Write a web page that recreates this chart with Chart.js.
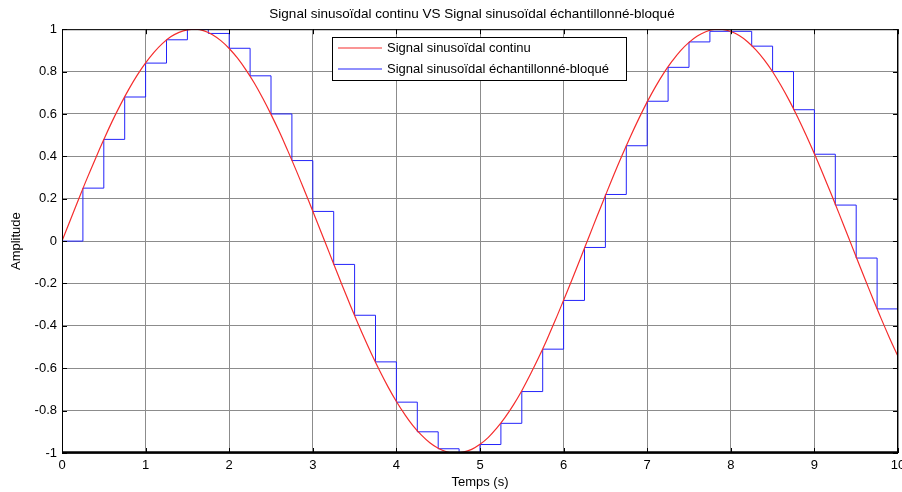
<!DOCTYPE html>
<html>
<head>
<meta charset="utf-8">
<script src="https://cdn.jsdelivr.net/npm/chart.js@4/dist/chart.umd.min.js"></script>
<style>
  body { margin: 0; background: #fff; }
  canvas { display: block; }
</style>
</head>
<body>
<canvas id="sineChart" width="902" height="492"></canvas>
<script>
// continuous signal, read every 0.1 s
const contTime = [0, 0.1, 0.2, 0.3, 0.4, 0.5, 0.6, 0.7, 0.8, 0.9,
  1, 1.1, 1.2, 1.3, 1.4, 1.5, 1.6, 1.7, 1.8, 1.9,
  2, 2.1, 2.2, 2.3, 2.4, 2.5, 2.6, 2.7, 2.8, 2.9,
  3, 3.1, 3.2, 3.3, 3.4, 3.5, 3.6, 3.7, 3.8, 3.9,
  4, 4.1, 4.2, 4.3, 4.4, 4.5, 4.6, 4.7, 4.8, 4.9,
  5, 5.1, 5.2, 5.3, 5.4, 5.5, 5.6, 5.7, 5.8, 5.9,
  6, 6.1, 6.2, 6.3, 6.4, 6.5, 6.6, 6.7, 6.8, 6.9,
  7, 7.1, 7.2, 7.3, 7.4, 7.5, 7.6, 7.7, 7.8, 7.9,
  8, 8.1, 8.2, 8.3, 8.4, 8.5, 8.6, 8.7, 8.8, 8.9,
  9, 9.1, 9.2, 9.3, 9.4, 9.5, 9.6, 9.7, 9.8, 9.9, 10];
const contValues = [0, 0.100, 0.199, 0.296, 0.389, 0.479, 0.565, 0.644, 0.717, 0.783,
  0.841, 0.891, 0.932, 0.964, 0.985, 0.997, 1.000, 0.992, 0.974, 0.946,
  0.909, 0.863, 0.808, 0.746, 0.675, 0.598, 0.516, 0.427, 0.335, 0.239,
  0.141, 0.042, -0.058, -0.158, -0.256, -0.351, -0.443, -0.530, -0.612, -0.688,
  -0.757, -0.818, -0.872, -0.916, -0.952, -0.978, -0.994, -1.000, -0.996, -0.983,
  -0.959, -0.926, -0.883, -0.832, -0.773, -0.706, -0.631, -0.551, -0.465, -0.374,
  -0.279, -0.182, -0.083, 0.017, 0.117, 0.215, 0.312, 0.405, 0.494, 0.578,
  0.657, 0.729, 0.794, 0.850, 0.899, 0.938, 0.968, 0.988, 0.999, 0.999,
  0.989, 0.970, 0.941, 0.902, 0.855, 0.799, 0.734, 0.663, 0.585, 0.501,
  0.412, 0.319, 0.223, 0.125, 0.025, -0.075, -0.174, -0.272, -0.367, -0.458, -0.544];

// sampled and held signal, every 0.25 s
const sampleTime = [0, 0.25, 0.5, 0.75, 1, 1.25, 1.5, 1.75, 2, 2.25,
  2.5, 2.75, 3, 3.25, 3.5, 3.75, 4, 4.25, 4.5, 4.75,
  5, 5.25, 5.5, 5.75, 6, 6.25, 6.5, 6.75, 7, 7.25,
  7.5, 7.75, 8, 8.25, 8.5, 8.75, 9, 9.25, 9.5, 9.75, 10];
const sampleValues = [0, 0.25, 0.48, 0.68, 0.84, 0.95, 1.00, 0.98, 0.91, 0.78,
  0.60, 0.38, 0.14, -0.11, -0.35, -0.57, -0.76, -0.90, -0.98, -1.00,
  -0.96, -0.86, -0.71, -0.51, -0.28, -0.03, 0.22, 0.45, 0.66, 0.82,
  0.94, 0.99, 0.99, 0.92, 0.80, 0.62, 0.41, 0.17, -0.08, -0.32, -0.54];

const seriesNames = ["Signal sinusoïdal continu", "Signal sinusoïdal échantillonné-bloqué"];
const seriesColors = ["rgb(245,45,45)", "rgb(35,35,250)"];

const FONT = "'Liberation Sans', Arial, sans-serif";

// matlab style frame, inward ticks and boxed legend
const matlabBox = {
  id: "matlabBox",
  afterLayout(chart) {
    // center the title over the plot area, like matlab does
    const t = chart.titleBlock;
    if (t) {
      t.left = chart.chartArea.left - 8;
      t.right = chart.chartArea.right - 8;
    }
  },
  afterDraw(chart) {
    const ctx = chart.ctx;
    const a = chart.chartArea;
    const xs = chart.scales.x, ys = chart.scales.y;
    ctx.save();
    ctx.strokeStyle = "#000";
    ctx.lineWidth = 1;
    ctx.beginPath();
    xs.ticks.forEach(t => {
      const px = Math.round(xs.getPixelForValue(t.value)) + 0.5;
      ctx.moveTo(px, a.top); ctx.lineTo(px, a.top + 5);
      ctx.moveTo(px, a.bottom); ctx.lineTo(px, a.bottom - 5);
    });
    ys.ticks.forEach(t => {
      const py = Math.round(ys.getPixelForValue(t.value)) + 0.5;
      ctx.moveTo(a.left, py); ctx.lineTo(a.left + 5, py);
      ctx.moveTo(a.right, py); ctx.lineTo(a.right - 5, py);
    });
    ctx.stroke();
    ctx.strokeRect(a.left + 0.5, a.top + 0.5, a.right - a.left - 1, a.bottom - a.top - 1);
    ctx.lineWidth = 2.5;
    ctx.beginPath();
    ctx.moveTo(a.left, a.bottom - 0.5); ctx.lineTo(a.right, a.bottom - 0.5);
    ctx.stroke();

    // legend
    const lx = 332, ly = 37, lw = 294, lh = 43;
    ctx.fillStyle = "#fff";
    ctx.fillRect(lx, ly, lw, lh);
    ctx.lineWidth = 1;
    ctx.strokeStyle = "#000";
    ctx.strokeRect(lx + 0.5, ly + 0.5, lw, lh);
    ctx.font = "13px " + FONT;
    ctx.textBaseline = "middle";
    ctx.textAlign = "left";
    seriesNames.forEach((name, i) => {
      const yy = ly + 11 + i * 21;
      ctx.strokeStyle = seriesColors[i];
      ctx.lineWidth = 1.2;
      ctx.beginPath();
      ctx.moveTo(lx + 6, yy); ctx.lineTo(lx + 50, yy);
      ctx.stroke();
      ctx.fillStyle = "#000";
      ctx.fillText(name, lx + 55, yy);
    });
    ctx.restore();
  }
};

new Chart(document.getElementById("sineChart"), {
  type: "line",
  data: {
    datasets: [
      {
        label: seriesNames[0],
        data: contTime.map((t, i) => ({ x: t, y: contValues[i] })),
        borderColor: seriesColors[0],
        borderWidth: 1.2,
        pointRadius: 0,
        tension: 0.4,
      },
      {
        label: seriesNames[1],
        data: sampleTime.map((t, i) => ({ x: t, y: sampleValues[i] })),
        borderColor: seriesColors[1],
        borderWidth: 1,
        pointRadius: 0,
        stepped: true,
      },
    ],
  },
  options: {
    responsive: false,
    animation: false,
    layout: { padding: { top: 0, left: 0, right: 4, bottom: 0 } },
    plugins: {
      legend: { display: false },
      tooltip: { enabled: false },
      title: {
        display: true,
        text: "Signal sinusoïdal continu VS Signal sinusoïdal échantillonné-bloqué",
        color: "#000",
        font: { family: FONT, size: 13.5, weight: "normal" },
        padding: { top: 6, bottom: 7 },
      },
    },
    scales: {
      x: {
        type: "linear",
        min: 0,
        max: 10,
        ticks: { stepSize: 1, color: "#000", font: { family: FONT, size: 13 }, padding: 5, maxRotation: 0 },
        grid: { color: "#8c8c8c", drawTicks: false },
        border: { display: false },
        title: { display: true, text: "Temps (s)", color: "#000", font: { family: FONT, size: 13 }, padding: { top: 0, bottom: 2 } },
        afterFit(scale) { scale.height = 39; scale.paddingLeft = 0; scale.paddingRight = 0; },
      },
      y: {
        min: -1,
        max: 1,
        ticks: {
          stepSize: 0.2,
          color: "#000",
          font: { family: FONT, size: 13 },
          padding: 5,
          callback: v => String(Math.round(v * 10) / 10),
        },
        grid: { color: "#8c8c8c", drawTicks: false },
        border: { display: false },
        title: { display: true, text: "Amplitude", color: "#000", font: { family: FONT, size: 13 }, padding: { top: 9, bottom: 0 } },
        afterFit(scale) { scale.width = 62; scale.paddingTop = 0; scale.paddingBottom = 0; },
      },
    },
  },
  plugins: [matlabBox],
});
</script>
</body>
</html>
